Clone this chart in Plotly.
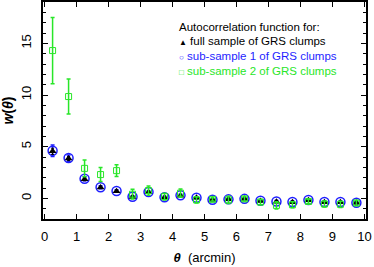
import plotly.graph_objects as go

theta = [0.25, 0.75, 1.25, 1.75, 2.25, 2.75, 3.25, 3.75, 4.25, 4.75,
         5.25, 5.75, 6.25, 6.75, 7.25, 7.75, 8.25, 8.75, 9.25, 9.75]

w_full = [4.55, 3.85, 1.85, 1.05, 0.68, 0.13, 0.58, 0.08, 0.25, 0.05,
          -0.13, -0.08, -0.05, -0.25, -0.32, -0.38, -0.18, -0.38, -0.38, -0.42]
err_full = [0.3, 0.2, 0.15, 0.1, 0.1, 0.1, 0.1, 0.1, 0.1, 0.1,
            0.1, 0.1, 0.1, 0.1, 0.1, 0.1, 0.1, 0.1, 0.1, 0.1]

w_sub1 = [4.6, 3.9, 1.9, 1.07, 0.71, 0.16, 0.61, 0.1, 0.29, 0.05,
          -0.13, -0.1, -0.05, -0.23, -0.3, -0.36, -0.16, -0.36, -0.36, -0.42]
err_sub1 = [0.55, 0.3, 0.2, 0.15, 0.12, 0.1, 0.1, 0.1, 0.1, 0.1,
            0.1, 0.1, 0.1, 0.1, 0.1, 0.1, 0.1, 0.1, 0.1, 0.1]

w_sub2 = [14.3, 9.85, 2.9, 2.3, 2.68, 0.4, 0.75, 0.16, 0.5, -0.15,
          -0.1, -0.15, -0.05, -0.36, -0.68, -0.62, -0.3, -0.55, -0.58, -0.45]
err_sub2 = [3.2, 1.7, 0.8, 0.68, 0.56, 0.47, 0.45, 0.32, 0.4, 0.3,
            0.15, 0.35, 0.2, 0.25, 0.35, 0.3, 0.2, 0.3, 0.3, 0.25]

legend_title = "Autocorrelation function for:"
legend_symbols = ["▲", "○", "□"]
legend_labels = [
    "full sample of GRS clumps",
    "sub-sample 1 of GRS clumps",
    "sub-sample 2 of GRS clumps",
]

BLUE = "rgb(30,30,255)"
GREEN = "rgb(40,230,40)"
FONT = "Liberation Sans, Arial, sans-serif"

fig = go.Figure()
fig.add_trace(go.Scatter(
    x=theta, y=w_sub1, mode="markers", name="sub-sample 1",
    marker=dict(symbol="circle-open", size=9, color=BLUE, line=dict(width=1.5, color=BLUE)),
    error_y=dict(type="data", array=err_sub1, color=BLUE, thickness=1.5, width=2),
))
fig.add_trace(go.Scatter(
    x=theta, y=w_full, mode="markers", name="full sample",
    marker=dict(symbol="triangle-up", size=7, color="black"),
    error_y=dict(type="data", array=err_full, color="black", thickness=1, width=1.5),
))
fig.add_trace(go.Scatter(
    x=theta, y=w_sub2, mode="markers", name="sub-sample 2",
    marker=dict(symbol="square-open", size=6, color=GREEN, line=dict(width=1, color=GREEN)),
    error_y=dict(type="data", array=err_sub2, color=GREEN, thickness=1.5, width=2),
))

fig.add_annotation(
    xref="paper", yref="paper", x=0.418, y=0.885, xanchor="left", yanchor="middle",
    text=legend_title, showarrow=False, align="left", borderpad=0,
    font=dict(family=FONT, size=11.5, color="black"),
)
line_colors = ["black", BLUE, GREEN]
line_y = [0.818, 0.750, 0.683]
for sym, lab, col, yy in zip(legend_symbols, legend_labels, line_colors, line_y):
    fig.add_annotation(
        xref="paper", yref="paper", x=0.418, y=yy, xanchor="left", yanchor="middle",
        text=f"<span style='font-size:8px'>{sym}</span> {lab}",
        showarrow=False, align="left", borderpad=0,
        font=dict(family=FONT, size=11.5, color=col),
    )

axis_common = dict(
    showgrid=False, zeroline=False, showline=True, linecolor="black", linewidth=1.5,
    mirror="ticks", ticks="inside", tickcolor="black", tickwidth=1.2, ticklen=5,
    tickfont=dict(family=FONT, size=13, color="black"),
    automargin=False, ticklabeloverflow="allow", ticklabelstandoff=5,
)

fig.update_xaxes(
    range=[-0.05, 10.05], tickmode="linear", tick0=0, dtick=1,
    title=dict(text="<b><i>θ</i></b>  (arcmin)", standoff=10,
               font=dict(family=FONT, size=13, color="black")),
    **axis_common,
)
fig.update_yaxes(
    range=[-2, 19], tickmode="linear", tick0=0, dtick=5, tickangle=-90,
    minor=dict(ticks="inside", dtick=1, ticklen=3, tickcolor="black", tickwidth=1.2),
    title=dict(text="<b><i>w</i>(<i>θ</i>)</b>", standoff=6,
               font=dict(family=FONT, size=14, color="black")),
    **axis_common,
)

fig.update_layout(
    width=374, height=267,
    margin=dict(l=43, r=8, t=2, b=48),
    paper_bgcolor="white", plot_bgcolor="white",
    showlegend=False,
)

fig.write_html("out.html", config={"displayModeBar": False},
               post_script="document.body.style.margin='0';")
